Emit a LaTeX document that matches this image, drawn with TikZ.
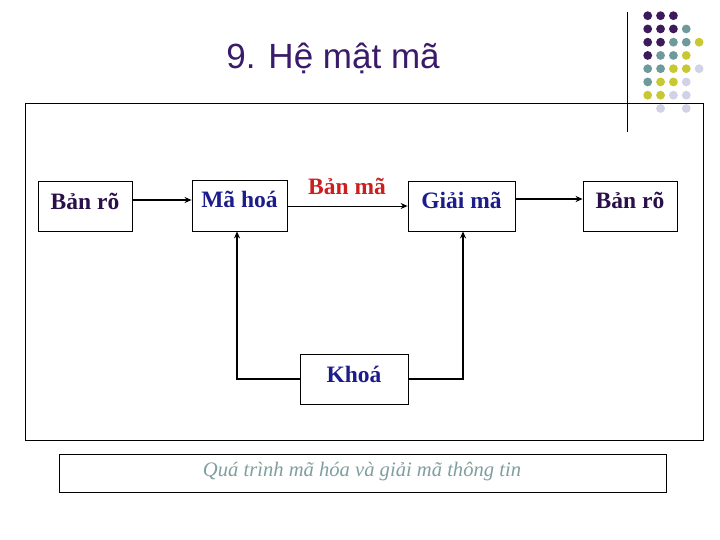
\documentclass[tikz,border=0pt]{standalone}
\usepackage{fontspec}
\setmainfont{Liberation Serif}
\newfontfamily\titlefont{Liberation Sans}
\usetikzlibrary{arrows.meta}
\definecolor{dpurple}{HTML}{3D1A5B}
\definecolor{dteal}{HTML}{6E9A9A}
\definecolor{dyellow}{HTML}{C8C832}
\definecolor{dlav}{HTML}{D2D2E6}
\definecolor{txtpurple}{HTML}{2A0F4A}
\definecolor{txtblue}{HTML}{1C1C8C}
\definecolor{txtred}{HTML}{CC1F1F}
\definecolor{captcol}{HTML}{7F9F9F}
\definecolor{titlecol}{HTML}{3A1A6A}
\tikzset{
  blockbox/.style={draw=black, line width=0.8pt, fill=white},
  blocktext/.style={font=\fontsize{23.5}{25}\selectfont\bfseries, inner sep=0pt},
  thickarrow/.style={line width=1.6pt, -{Stealth[length=7pt,width=6pt]}},
  thinarrow/.style={line width=0.9pt, -{Stealth[length=7pt,width=6pt]}},
  dotP/.style={fill=dpurple},
  dotT/.style={fill=dteal},
  dotY/.style={fill=dyellow},
  dotL/.style={fill=dlav},
}
\begin{document}
\begin{tikzpicture}[x=1pt,y=-1pt]
\useasboundingbox[fill=white] (0,0) rectangle (720,540);
% decorative dots
\foreach \row/\cols in {0/{0/P,1/P,2/P},1/{0/P,1/P,2/P,3/T},2/{0/P,1/P,2/T,3/T,4/Y},3/{0/P,1/T,2/T,3/Y},4/{0/T,1/T,2/Y,3/Y,4/L},5/{0/T,1/Y,2/Y,3/L},6/{0/Y,1/Y,2/L,3/L},7/{1/L,3/L}}{
  \foreach \c/\k in \cols {
    \fill[dot\k] ({647.7+12.85*\c},{15.7+13.25*\row}) circle (4.4);
  }
}
\draw[line width=0.8pt] (627,12) -- (627,132);
% frame
\draw[line width=0.8pt] (25,103) rectangle (703,440);
% title
\node[font=\titlefont\fontsize{35}{38}\selectfont, text=titlecol, inner sep=0pt] (title) at (333,58) {9. Hệ mật mã};
% boxes
\node[blockbox, minimum width=94pt, minimum height=50pt, inner sep=0pt] (b1) at (85,206) {};
\node[blockbox, minimum width=95pt, minimum height=51pt, inner sep=0pt] (b2) at (239.5,205.5) {};
\node[blockbox, minimum width=107pt, minimum height=50pt, inner sep=0pt] (b3) at (461.5,206) {};
\node[blockbox, minimum width=94pt, minimum height=50pt, inner sep=0pt] (b4) at (630,206) {};
\node[blockbox, minimum width=108pt, minimum height=50pt, inner sep=0pt] (b5) at (354,379) {};
% texts
\node[blocktext, text=txtpurple] (t1) at ([yshift=5pt]b1.center) {Bản rõ};
\node[blocktext, text=txtblue] (t2) at ([yshift=6pt]b2.center) {Mã hoá};
\node[blocktext, text=txtblue] (t3) at ([yshift=6pt]b3.center) {Giải mã};
\node[blocktext, text=txtpurple] (t4) at ([yshift=6pt]b4.center) {Bản rõ};
\node[blocktext, text=txtblue] (t5) at ([yshift=5pt]b5.center) {Khoá};
% connectors
\draw[thickarrow] (b1.east |- 0,200) -- (b2.west |- 0,200);
\draw[thinarrow] (b2.east |- 0,206) -- (b3.west |- 0,206);
\node[blocktext, text=txtred] (lbl) at (347,186) {Bản mã};
\draw[thickarrow] (b3.east |- 0,199) -- (b4.west |- 0,199);
\coordinate (kl) at (237,379);
\coordinate (kr) at (463,379);
\draw[thickarrow] (b5.west) -- (kl) -- (kl |- b2.south);
\draw[thickarrow] (b5.east) -- (kr) -- (kr |- b3.south);
% caption
\node[draw=black, line width=0.8pt, minimum width=607pt, minimum height=38pt, inner sep=0pt] (cap) at (362.5,473) {};
\node[font=\fontsize{20.6}{22}\selectfont\itshape, text=captcol, inner sep=0pt, anchor=base] (capt) at (362,476) {Quá trình mã hóa và giải mã thông tin};
\end{tikzpicture}
\end{document}
